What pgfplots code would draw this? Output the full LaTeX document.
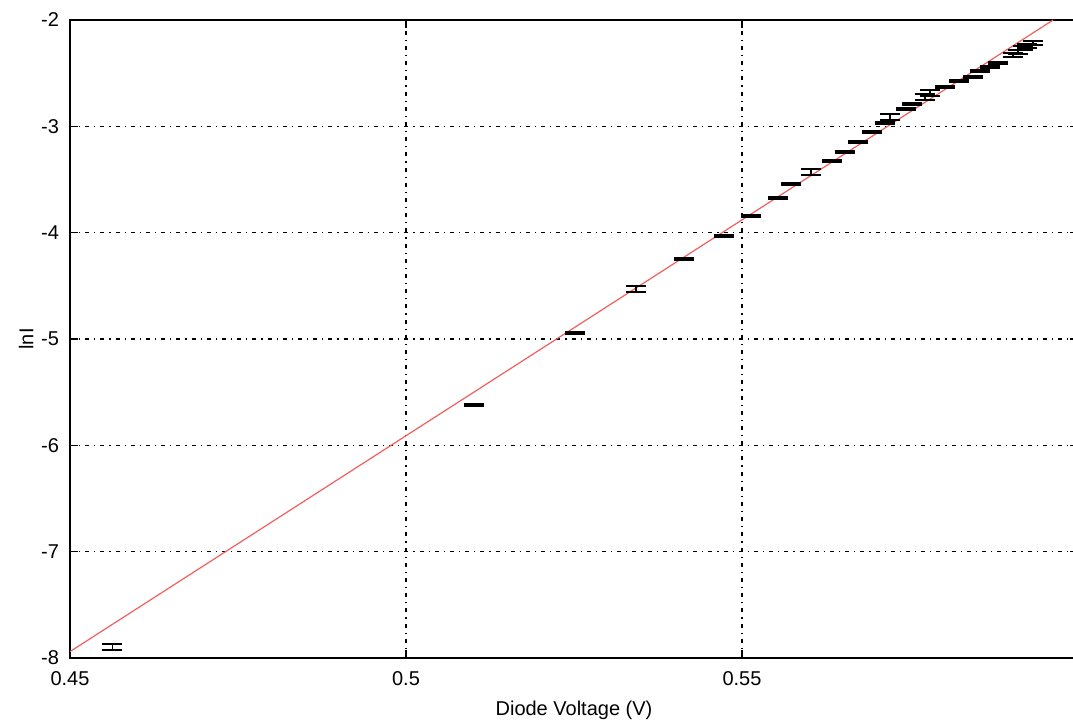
\documentclass[border=0pt]{standalone}
\usepackage{pgfplots}
\pgfplotsset{compat=1.18}
\usepackage{pgfplotstable}
\usepackage{fontspec}
\setmainfont{Liberation Sans}

\definecolor{fitred}{RGB}{240,95,95}

% Measured diode points: voltage, ln(current), uncertainty in ln(current)
\pgfplotstableread{
v       lnI     err
0.4563  -7.897  0.028
0.5101  -5.621  0.010
0.5251  -4.944  0.010
0.5342  -4.530  0.028
0.5414  -4.248  0.008
0.5473  -4.031  0.008
0.5513  -3.843  0.008
0.5554  -3.674  0.010
0.5573  -3.542  0.010
0.5603  -3.430  0.025
0.5634  -3.326  0.010
0.5653  -3.241  0.010
0.5673  -3.147  0.010
0.5693  -3.053  0.010
0.5713  -2.969  0.012
0.5720  -2.912  0.025
0.5744  -2.837  0.012
0.5753  -2.790  0.012
0.5772  -2.724  0.025
0.5780  -2.687  0.025
0.5802  -2.630  0.012
0.5823  -2.574  0.012
0.5844  -2.536  0.012
0.5854  -2.480  0.012
0.5869  -2.442  0.012
0.5881  -2.404  0.012
0.5903  -2.329  0.015
0.5911  -2.301  0.015
0.5918  -2.263  0.015
0.5924  -2.245  0.015
0.5933  -2.216  0.015
}\diodedata

% Straight-line fit of lnI against V
\pgfplotstableread{
v       lnI
0.4500  -7.94
0.5963  -2.00
}\fitdata

\begin{document}
\begin{tikzpicture}
\begin{axis}[
  name=ax,
  scale only axis,
  width=504pt, height=319pt,
  xmin=0.45, xmax=0.6,
  ymin=-8, ymax=-2,
  xtick={0.45,0.5,0.55},
  xticklabels={0.45,0.5,0.55},
  extra x ticks={0.6},
  extra x tick labels={},
  ytick={-8,-7,...,-2},
  /pgf/number format/assume math mode=true,
  tick label style={font=\fontsize{10}{12}\selectfont},
  label style={font=\fontsize{10}{12}\selectfont},
  xticklabel style={yshift=-3pt},
  yticklabel style={xshift=-2pt},
  tick align=inside,
  tick pos=both,
  major tick length=4pt,
  every tick/.style={black, line width=0.8pt},
  axis line style={black, line width=0.8pt},
  grid=major,
  major grid style={black, line width=0.6pt,
    dash pattern=on 2pt off 2.5pt on 0.6pt off 2.5pt},
  xlabel={Diode Voltage (V)},
  ylabel={lnI},
  xlabel style={yshift=-1pt},
  ylabel style={yshift=-3pt},
  clip=true,
]
\addplot[fitred, line width=0.6pt] table[x=v, y=lnI] {\fitdata};
\addplot[draw=none, no markers,
  error bars/.cd, y dir=both, y explicit,
  error mark=|,
  error bar style={draw=black, solid, line width=0.8pt},
  error mark options={draw=black, solid, line width=1pt, mark size=5pt}]
  table[x=v, y=lnI, y error=err] {\diodedata};
\end{axis}
\pgfresetboundingbox
\path ([xshift=-35pt,yshift=-33pt]ax.south west) rectangle ([xshift=-2.5pt,yshift=10pt]ax.north east);
\end{tikzpicture}
\end{document}
